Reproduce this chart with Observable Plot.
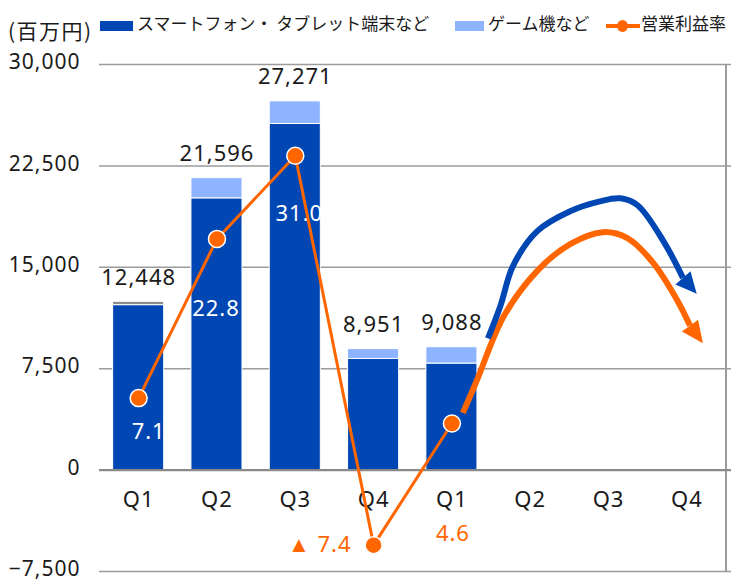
<!DOCTYPE html>
<html><head><meta charset="utf-8">
<script src="https://cdn.jsdelivr.net/npm/d3@7"></script>
<script src="https://cdn.jsdelivr.net/npm/@observablehq/plot@0.6"></script>
<style>
body{margin:0;background:#fff;font-family:"Noto Sans CJK JP","Noto Sans",sans-serif;}
#wrap{position:relative;width:731px;height:583px;overflow:hidden;}
#legend{position:relative;height:40px;width:731px;}
.lg{position:absolute;white-space:nowrap;color:#1a1a1a;font-size:17px;line-height:1;}
.sw{position:absolute;}
</style></head><body>
<div id="wrap"><div id="legend"></div><div id="chart"></div></div>
<script>
// ---- data ----
const unitLabel = "(百万円)";
const seriesNames = ["スマートフォン・ タブレット端末など", "ゲーム機など", "営業利益率"];
const quarters = ["Q1", "Q2", "Q3", "Q4", "Q1", "Q2", "Q3", "Q4"];
const smartphone = [12200, 20100, 25600, 8220, 7880];
const gameConsole = [248, 1496, 1671, 731, 1208];
const totals = [12448, 21596, 27271, 8951, 9088];
const marginPct = [7.1, 22.8, 31.0, -7.4, 4.6];
const yTicks = [-7500, 0, 7500, 15000, 22500, 30000];
// forecast arrows (quarter position, value in 百万円)
const blueArrowPts = [[4.46, 9740], [4.62, 12160], [4.78, 15100], [5.09, 17680], [5.51, 19150], [5.89, 19880], [6.15, 20100], [6.37, 19590], [6.70, 16940], [6.95, 14220]];
const orangeArrowPts = [[4.14, 4230], [4.32, 6650], [4.66, 11360], [5.09, 14740], [5.51, 16720], [5.93, 17600], [6.24, 17160], [6.57, 15330], [6.88, 12530], [7.04, 10690]];

// ---- styles ----
const BLUE = "#0047B3", LIGHT = "#8FB4FF", ORANGE = "#FF6600", GRID = "#9b9b9b";
const K = 750; // 1% of margin on the secondary scale = 750 百万円 (-10..40 ↔ -7,500..30,000)

// ---- legend ----
const legend = document.getElementById("legend");
function add(html, style, cls) { const e = document.createElement("div"); e.className = cls; e.innerHTML = html; Object.assign(e.style, style); legend.appendChild(e); return e; }
add(unitLabel, {left: "8px", top: "20px", fontSize: "21px", letterSpacing: "1.5px"}, "lg");
add("", {left: "100px", top: "21px", width: "33px", height: "10px", background: BLUE}, "sw");
add(seriesNames[0], {left: "137px", top: "14px"}, "lg");
add("", {left: "455px", top: "21px", width: "29px", height: "10px", background: LIGHT}, "sw");
add(seriesNames[1], {left: "488px", top: "14px"}, "lg");
add("", {left: "606px", top: "23.5px", width: "34px", height: "4px", background: ORANGE}, "sw");
add("", {left: "617px", top: "19.5px", width: "11px", height: "12px", borderRadius: "50%", background: ORANGE}, "sw");
add(seriesNames[2], {left: "641px", top: "14px"}, "lg");

// ---- table ----
const barRows = smartphone.flatMap((s, i) => [
  {i, series: seriesNames[0], y1: 0, y2: s},
  {i, series: seriesNames[1], y1: s, y2: s + gameConsole[i]}
]);
const marginRows = marginPct.map((m, i) => ({i, m, v: m * K}));
const fmtPct = m => m < 0 ? "▲ " + Math.abs(m).toFixed(1) : m.toFixed(1);
const HALF = 0.326;

const triangle = {draw(ctx, l, r) { ctx.moveTo(-r, 0); ctx.lineTo(0, -l); ctx.lineTo(r, 0); ctx.closePath(); }};

function mlabel(i, dx, dy, fill, textAnchor) {
  return Plot.text([marginRows[i]], {x: "i", y: "v", text: d => fmtPct(d.m), dx, dy, fill, textAnchor, fontSize: 22});
}

const chart = Plot.plot({
  width: 731, height: 543,
  marginTop: 24, marginBottom: 12, marginLeft: 99, marginRight: 0,
  style: {fontFamily: "'Noto Sans', sans-serif", letterSpacing: "1px", color: "#1a1a1a", background: "white"},
  x: {type: "linear", domain: [-0.5, 7.57], axis: null},
  y: {domain: [-7500, 30000], axis: null},
  marks: [
    Plot.ruleY(yTicks.filter(d => d !== 0), {stroke: GRID, strokeWidth: 1.5}),
    Plot.ruleX([7.5], {y1: -7500, y2: 30000, stroke: GRID, strokeWidth: 2}),
    Plot.rectY(barRows, {
      x1: d => d.i - HALF, x2: d => d.i + HALF, y1: "y1", y2: "y2",
      fill: d => d.series === seriesNames[0] ? BLUE : (d.i === 0 ? "#8c8c8c" : LIGHT),
      stroke: "white", strokeWidth: 1
    }),
    Plot.ruleY([0], {stroke: "#8a8a8a", strokeWidth: 2.2}),
    // forecast arrows
    Plot.line(orangeArrowPts, {x: d => d[0], y: d => d[1], stroke: ORANGE, strokeWidth: 6, curve: "catmull-rom", strokeLinecap: "butt"}),
    Plot.vector([orangeArrowPts[orangeArrowPts.length - 1]], {x: d => d[0], y: d => d[1], rotate: 144, length: 22, r: 10, anchor: "start", shape: triangle, fill: ORANGE, stroke: "none"}),
    Plot.line(blueArrowPts, {x: d => d[0], y: d => d[1], stroke: BLUE, strokeWidth: 6, curve: "catmull-rom", strokeLinecap: "butt"}),
    Plot.vector([blueArrowPts[blueArrowPts.length - 1]], {x: d => d[0], y: d => d[1], rotate: 139, length: 21, r: 10, anchor: "start", shape: triangle, fill: BLUE, stroke: "none"}),
    // y axis labels
    Plot.axisY({ticks: yTicks, tickSize: 0, tickPadding: 19, tickFormat: d3.format(","), fontSize: 21, dy: -2, label: null}),
    // x category labels at the zero line
    Plot.text(quarters, {x: (d, i) => i, y: () => 0, text: d => d, dy: 30, fontSize: 22}),
    // totals
    Plot.text(totals, {x: (d, i) => i, y: d => d, text: d => d3.format(",")(d), dy: -24, fontSize: 22}),
    // white margin labels inside bars
    mlabel(0, 10, 34, "white", "middle"),
    mlabel(1, -1, 70, "white", "middle"),
    mlabel(2, 4, 58, "white", "middle"),
    // margin line
    Plot.line(marginRows, {x: "i", y: "v", stroke: ORANGE, strokeWidth: 3}),
    Plot.dot(marginRows, {x: "i", y: "v", r: 8.5, fill: ORANGE, stroke: "white", strokeWidth: 1.5}),
    mlabel(3, -22, 0, ORANGE, "end"),
    mlabel(4, 1, 110, ORANGE, "middle")
  ]
});
document.getElementById("chart").appendChild(chart);
</script></body></html>
